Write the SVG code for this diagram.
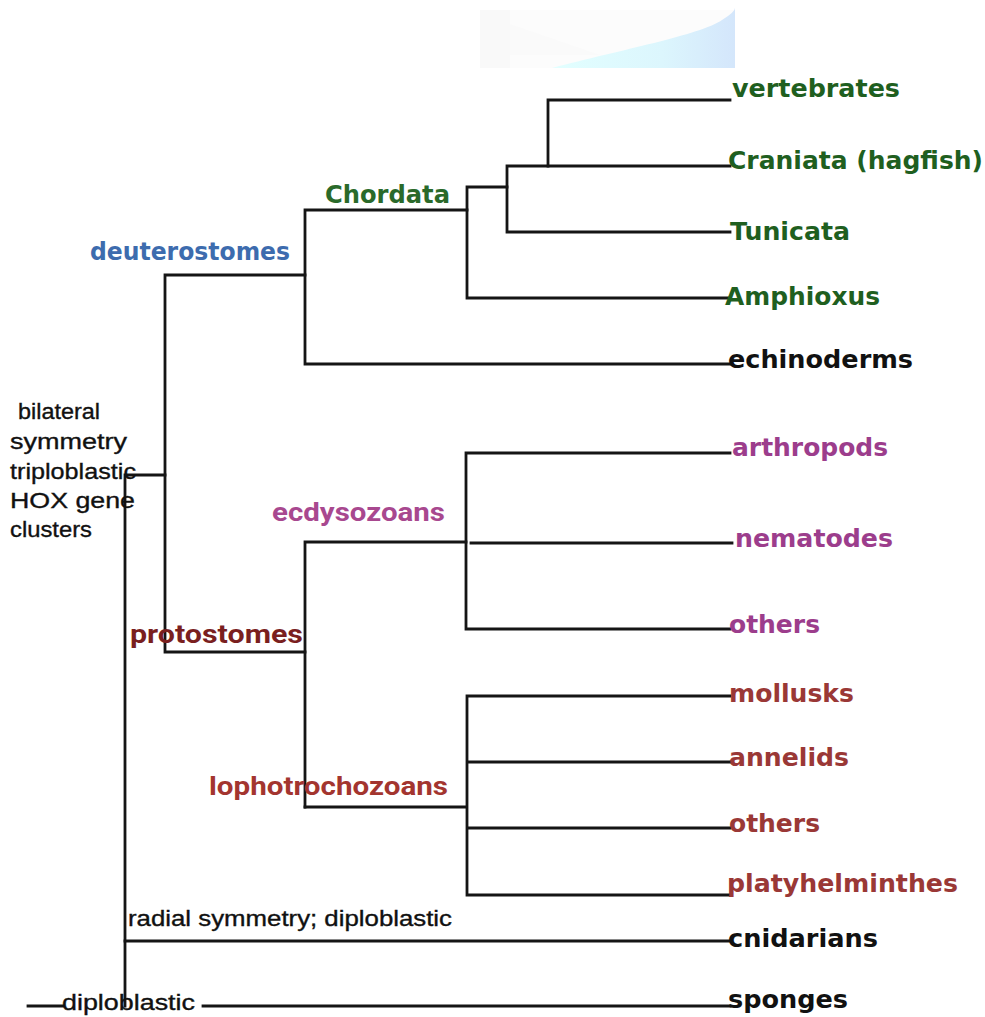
<svg xmlns="http://www.w3.org/2000/svg" width="985" height="1017" viewBox="0 0 985 1017">
<defs>
<linearGradient id="bg" x1="0" y1="0" x2="1" y2="0">
<stop offset="0" stop-color="#e2ffff"/>
<stop offset="0.6" stop-color="#dcf6fd"/>
<stop offset="1" stop-color="#d4e6fb"/>
</linearGradient>
<style>
.ln{stroke:#151515;stroke-width:2.8;fill:none;stroke-linecap:square}
.leaf{font-family:"DejaVu Sans",sans-serif;font-weight:bold;font-size:24px}
.clade{font-family:Roboto,"Liberation Sans",sans-serif;font-weight:bold;font-size:26px}
.note{font-family:"Liberation Sans",Arial,sans-serif;font-size:22px;fill:#111;stroke:#111;stroke-width:0.35}
.green{fill:#1f5f1f}
.purple{fill:#9c3d8c}
.brown{fill:#9a3836}
.black{fill:#111}
</style>
</defs>
<rect width="985" height="1017" fill="#ffffff"/>
<g id="banner">
<rect x="480" y="10" width="255" height="58" fill="#fcfcfc"/>
<rect x="480" y="10" width="30" height="58" fill="#f9f9f9"/>
<path d="M510,24 L600,55 L510,55 Z" fill="#fafafa"/>
<path d="M552,68 C620,50 700,35 722,20 Q735,12 735,8 L735,68 Z" fill="url(#bg)"/>
</g>
<g id="connectors">
<path class="ln" d="M28,1006 H63 M203,1006 H730"/>
<path class="ln" d="M125,475 V1006 M125,475 H165"/>
<path class="ln" d="M165,275 V652 M165,275 H305 M165,652 H305"/>
<path class="ln" d="M305,210 V364 M305,210 H467 M305,364 H730"/>
<path class="ln" d="M467,187 V298 M467,187 H507 M467,298 H730"/>
<path class="ln" d="M507,166 V232 M507,166 H730 M507,232 H730"/>
<path class="ln" d="M548,100 V166 M548,100 H730"/>
<path class="ln" d="M305,542 V807 M305,542 H466"/>
<path class="ln" d="M466,453 V629 M466,453 H730 M471,543 H732 M466,629 H730"/>
<path class="ln" d="M305,807 H467 M467,696 V895 M467,696 H730 M467,762 H730 M467,828 H730 M467,895 H730"/>
<path class="ln" d="M125,941 H730"/>
</g>
<g id="node-vertebrates"><text class="leaf green" x="732" y="97" textLength="168" lengthAdjust="spacingAndGlyphs">vertebrates</text></g>
<g id="node-craniata"><text class="leaf green" x="728" y="169" textLength="255" lengthAdjust="spacingAndGlyphs">Craniata (hagfish)</text></g>
<g id="node-tunicata"><text class="leaf green" x="730" y="240" textLength="120" lengthAdjust="spacingAndGlyphs">Tunicata</text></g>
<g id="node-amphioxus"><text class="leaf green" x="725" y="305" textLength="155" lengthAdjust="spacingAndGlyphs">Amphioxus</text></g>
<g id="node-echinoderms"><text class="leaf black" x="728" y="368" textLength="185" lengthAdjust="spacingAndGlyphs">echinoderms</text></g>
<g id="node-arthropods"><text class="leaf purple" x="732" y="456" textLength="156" lengthAdjust="spacingAndGlyphs">arthropods</text></g>
<g id="node-nematodes"><text class="leaf purple" x="735" y="547" textLength="158" lengthAdjust="spacingAndGlyphs">nematodes</text></g>
<g id="node-others-ecdysozoa"><text class="leaf purple" x="729" y="633" textLength="91" lengthAdjust="spacingAndGlyphs">others</text></g>
<g id="node-mollusks"><text class="leaf brown" x="729" y="702" textLength="125" lengthAdjust="spacingAndGlyphs">mollusks</text></g>
<g id="node-annelids"><text class="leaf brown" x="729" y="766" textLength="120" lengthAdjust="spacingAndGlyphs">annelids</text></g>
<g id="node-others-lopho"><text class="leaf brown" x="729" y="832" textLength="91" lengthAdjust="spacingAndGlyphs">others</text></g>
<g id="node-platyhelminthes"><text class="leaf brown" x="727" y="892" textLength="231" lengthAdjust="spacingAndGlyphs">platyhelminthes</text></g>
<g id="node-cnidarians"><text class="leaf black" x="728" y="947" textLength="150" lengthAdjust="spacingAndGlyphs">cnidarians</text></g>
<g id="node-sponges"><text class="leaf black" x="728" y="1008" textLength="120" lengthAdjust="spacingAndGlyphs">sponges</text></g>
<g id="node-chordata"><text class="leaf" fill="#2a6a2a" x="325" y="203" textLength="125" lengthAdjust="spacingAndGlyphs">Chordata</text></g>
<g id="node-deuterostomes"><text class="leaf" fill="#3d6cae" x="90" y="260" textLength="200" lengthAdjust="spacingAndGlyphs">deuterostomes</text></g>
<g id="node-ecdysozoans"><text class="clade" fill="#a8488f" x="272" y="521" textLength="173" lengthAdjust="spacingAndGlyphs">ecdysozoans</text></g>
<g id="node-protostomes"><text class="clade" fill="#7a1f1f" x="130" y="643" textLength="173" lengthAdjust="spacingAndGlyphs">protostomes</text></g>
<g id="node-lophotrochozoans"><text class="clade" fill="#a3352f" x="209" y="795" textLength="239" lengthAdjust="spacingAndGlyphs">lophotrochozoans</text></g>
<g id="node-bilateria">
<text class="note" x="18" y="419" textLength="82" lengthAdjust="spacingAndGlyphs">bilateral</text>
<text class="note" x="10" y="449" textLength="117" lengthAdjust="spacingAndGlyphs">symmetry</text>
<text class="note" x="10" y="479" textLength="126" lengthAdjust="spacingAndGlyphs">triploblastic</text>
<text class="note" x="10" y="508" textLength="125" lengthAdjust="spacingAndGlyphs">HOX gene</text>
<text class="note" x="10" y="537" textLength="82" lengthAdjust="spacingAndGlyphs">clusters</text>
</g>
<g id="node-radial"><text class="note" x="128" y="926" textLength="324" lengthAdjust="spacingAndGlyphs">radial symmetry; diploblastic</text></g>
<g id="node-diploblastic"><text class="note" x="62" y="1010" textLength="133" lengthAdjust="spacingAndGlyphs">diploblastic</text></g>
</svg>
